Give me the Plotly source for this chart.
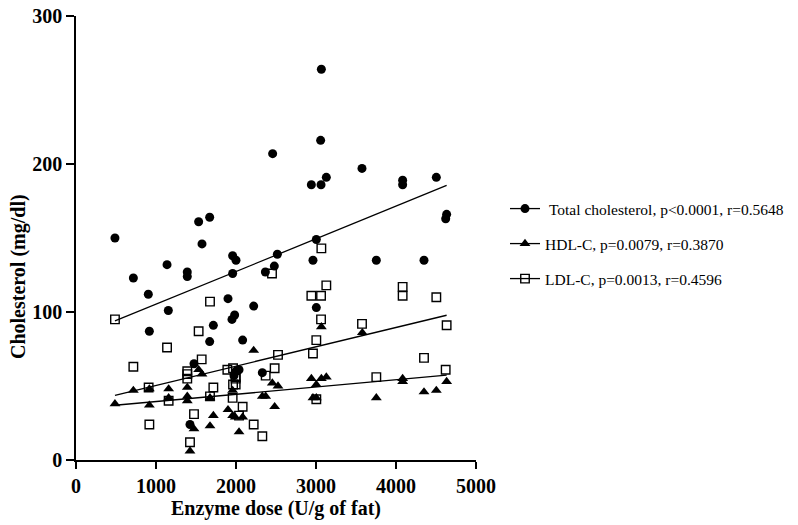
import numpy as np
import plotly.graph_objects as go

# ---------------- data ----------------
tc_x = [487, 717, 904, 917, 1138, 1154, 1391, 1391, 1425, 1475, 1533, 1575, 1671, 1671,
        1717, 1900, 1958, 2000, 1958, 1983, 1950, 2083, 2221, 2038, 2000, 1975, 2329,
        2367, 2458, 2479, 2517, 2942, 2962, 3004, 3004, 3063, 3067, 3058, 3129, 3575,
        3754, 4083, 4083, 4350, 4504, 4633, 4621]
tc_y = [150, 123, 112, 87, 132, 101, 127, 124, 24, 65, 161, 146, 164, 80,
        91, 109, 138, 135, 126, 98, 95, 81, 104, 61, 60, 57, 59,
        127, 207, 131, 139, 186, 135, 149, 103, 186, 264, 216, 191, 197,
        135, 189, 186, 135, 191, 166, 163]

hdl_x = [487, 717, 917, 917, 1158, 1158, 1391, 1391, 1391, 1425, 1475, 1533, 1575, 1717,
         1675, 1675, 1900, 1958, 1958, 1990, 2083, 2038, 2221, 2329, 2371, 2454, 2483,
         2525, 3067, 3579, 2942, 3067, 3129, 3004, 2962, 3004, 3754, 4083, 4083, 4350,
         4504, 4633]
hdl_y = [38, 47, 48, 37, 48, 42, 49, 43, 40, 6, 21, 61, 58, 30,
         42, 23, 34, 47, 30, 29, 29, 19, 74, 43, 43, 52, 36,
         50, 90, 86, 55, 55, 56, 51, 42, 42, 42, 55, 53, 46,
         47, 53]

ldl_x = [487, 717, 908, 917, 1138, 1158, 1391, 1391, 1391, 1425, 1475, 1533, 1571, 1675,
         1717, 1675, 1892, 1963, 1996, 1996, 1963, 1996, 1958, 2083, 2038, 2221, 2329,
         2371, 2450, 2483, 2525, 2942, 2962, 3004, 3004, 3063, 3067, 3129, 3063, 3575,
         3754, 4083, 4083, 4350, 4504, 4633, 4621]
ldl_y = [95, 63, 49, 24, 76, 40, 60, 58, 55, 12, 31, 87, 68, 107,
         49, 43, 61, 62, 56, 55, 51, 51, 42, 36, 30, 24, 16,
         57, 126, 62, 71, 111, 72, 81, 41, 111, 143, 118, 95, 92,
         56, 117, 111, 69, 110, 91, 61]

# linear-regression lines: [intercept, slope]
fit_tc = [83.2, 0.02208]
fit_hdl = [34.6, 0.0049]
fit_ldl = [37.3, 0.01306]

legend_names = [
    "\u00a0Total cholesterol, p<0.0001, r=0.5648",
    "HDL-C, p=0.0079, r=0.3870",
    "LDL-C, p=0.0013, r=0.4596",
]

x_ticks = [0, 1000, 2000, 3000, 4000, 5000]
y_ticks = [0, 100, 200, 300]

FONT = "Liberation Serif, Times New Roman, serif"
BOLD = dict(family=FONT, size=20, weight="bold", color="black")

series = [
    (tc_x, tc_y, fit_tc, dict(symbol="circle", size=9, color="black"), "legend"),
    (hdl_x, hdl_y, fit_hdl, dict(symbol="triangle-up", size=9.5, color="black"), "legend2"),
    (ldl_x, ldl_y, fit_ldl, dict(symbol="square-open", size=8.5, color="black",
                                 line=dict(width=1.4, color="black")), "legend3"),
]

fig = go.Figure()
for (xs, ys, fit, mk, lg), name in zip(series, legend_names):
    xl = np.array([min(xs), max(xs)], float)
    fig.add_trace(go.Scatter(x=xl, y=fit[0] + fit[1] * xl, mode="lines",
                             line=dict(color="black", width=1.3),
                             showlegend=False, hoverinfo="skip"))
    fig.add_trace(go.Scatter(x=xs, y=ys, mode="markers", marker=mk,
                             showlegend=False, cliponaxis=False))
    fig.add_trace(go.Scatter(x=[None], y=[None], mode="lines+markers", name=name,
                             marker=mk, line=dict(color="black", width=1.3),
                             legend=lg, showlegend=True))

# plot area: 400 x 444 px, page body margin removed
L, T, PW, PH = 76, 16, 400, 444
leg_common = dict(font=dict(family=FONT, size=15.5, color="black"),
                  bgcolor="rgba(0,0,0,0)", itemwidth=30,
                  xanchor="left", yanchor="middle", x=1.0725)

fig.update_layout(
    width=798, height=525,
    margin=dict(l=L, r=798 - L - PW, t=T, b=525 - T - PH, autoexpand=False),
    paper_bgcolor="white", plot_bgcolor="white",
    font=dict(family=FONT, color="black"),
    legend=dict(**leg_common, y=(460 - 209) / 444),
    legend2=dict(**leg_common, y=(460 - 244) / 444),
    legend3=dict(**leg_common, y=(460 - 279) / 444),
    xaxis=dict(range=[0, 5000], tickvals=x_ticks, ticktext=[str(v) for v in x_ticks],
               automargin=False, ticklabeloverflow="allow",
               showgrid=False, zeroline=False, showline=True, linecolor="black",
               linewidth=1.5, ticks="outside", ticklen=7, tickwidth=1.5,
               tickcolor="black", tickfont=BOLD,
               title=dict(text="Enzyme dose (U/g of fat)", standoff=4, font=BOLD)),
    yaxis=dict(range=[0, 300], tickvals=y_ticks, ticktext=[str(v) for v in y_ticks],
               automargin=False, ticklabeloverflow="allow",
               showgrid=False, zeroline=False, showline=True, linecolor="black",
               linewidth=1.5, ticks="outside", ticklen=8, tickwidth=1.5,
               tickcolor="black", tickfont=BOLD),
    annotations=[dict(text="Cholesterol (mg/dl)", textangle=-90, xref="paper", yref="paper",
                      x=(18 - 76) / 400, y=(460 - 277) / 444, showarrow=False,
                      xanchor="center", yanchor="middle", font=BOLD)],
)

fig.write_html("out.html", config={"displayModeBar": False},
               post_script="document.body.style.margin='0';")
